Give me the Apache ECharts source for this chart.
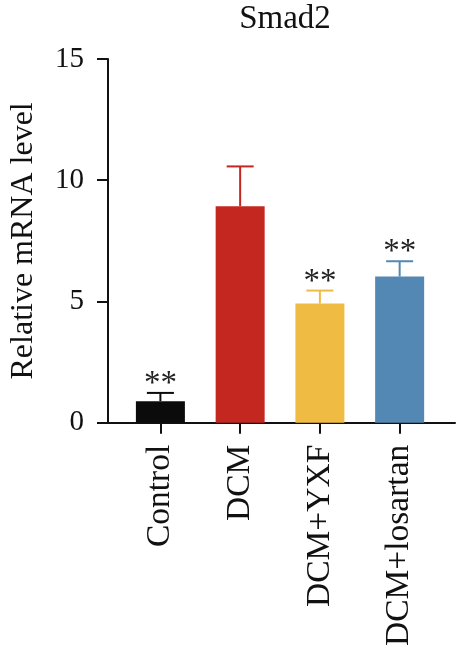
<!DOCTYPE html>
<html>
<head>
<meta charset="utf-8">
<script src="https://cdn.jsdelivr.net/npm/echarts@6/dist/echarts.min.js"></script>
<style>
  html, body { margin: 0; padding: 0; background: #fff; }
  #chart { width: 456px; height: 649px; }
</style>
</head>
<body>
<div id="chart"></div>
<script>
// data
var categories = ['Control', 'DCM', 'DCM+YXF', 'DCM+losartan'];
var means = [0.89, 8.93, 4.92, 6.03];
var errTops = [1.23, 10.57, 5.45, 6.66];
var marks = ['**', '', '**', '**'];
var colors = ['#0b0b0b', '#c4271f', '#f0bb42', '#5288b3'];
var yTicks = [0, 5, 10, 15];

var FONT = '"Liberation Serif", "DejaVu Serif", serif';

var barData = means.map(function (v, i) {
  return { value: [i + 1, v], itemStyle: { color: colors[i] } };
});
var errData = means.map(function (v, i) {
  return [i + 1, v, errTops[i], i];
});

var chart = echarts.init(document.getElementById('chart'));
var option = {
  animation: false,
  title: {
    text: 'Smad2',
    left: 280,
    top: -2,
    textAlign: 'center',
    textStyle: { fontFamily: FONT, fontWeight: 'normal', fontSize: 33, color: '#111' }
  },
  grid: { left: 104, right: 1, top: 59, bottom: 225 },
  xAxis: {
    type: 'value',
    min: 0.343,
    max: 4.694,
    splitLine: { show: false },
    axisLine: { show: true, lineStyle: { color: '#111', width: 2 } },
    axisTick: {
      show: true, length: 11, customValues: [1, 2, 3, 4],
      lineStyle: { color: '#111', width: 2 }
    },
    axisLabel: {
      customValues: [1, 2, 3, 4],
      rotate: 90,
      margin: 22,
      fontFamily: FONT,
      fontSize: 33.5,
      color: '#111',
      formatter: function (v) { return categories[Math.round(v) - 1] || ''; }
    }
  },
  yAxis: {
    type: 'value',
    min: 0,
    max: 15,
    interval: 5,
    name: 'Relative mRNA level',
    nameLocation: 'middle',
    nameRotate: 90,
    nameGap: 68,
    nameTextStyle: { fontFamily: FONT, fontSize: 32, color: '#111' },
    splitLine: { show: false },
    axisLine: { show: true, lineStyle: { color: '#111', width: 2 } },
    axisTick: { show: true, length: 11, lineStyle: { color: '#111', width: 2 } },
    axisLabel: {
      margin: 24,
      fontFamily: FONT,
      fontSize: 29,
      color: '#111',
      formatter: function (v) { return yTicks.indexOf(v) >= 0 ? String(v) : ''; }
    }
  },
  series: [
    {
      type: 'bar',
      barWidth: 49,
      data: barData,
      z: 2
    },
    {
      type: 'custom',
      data: errData,
      z: 3,
      renderItem: function (params, api) {
        var i = api.value(3);
        var base = api.coord([api.value(0), api.value(1)]);
        var top = api.coord([api.value(0), api.value(2)]);
        var half = 13.5;
        var style = { stroke: colors[i], lineWidth: 2 };
        var kids = [
          { type: 'line', shape: { x1: base[0], y1: base[1], x2: top[0], y2: top[1] }, style: style },
          { type: 'line', shape: { x1: base[0] - half, y1: top[1], x2: base[0] + half, y2: top[1] }, style: style }
        ];
        if (marks[i]) {
          kids.push({
            type: 'text',
            style: {
              text: marks[i],
              x: base[0],
              y: top[1] + 8,
              align: 'center',
              verticalAlign: 'bottom',
              font: '33px ' + FONT,
              fill: '#222'
            }
          });
        }
        return { type: 'group', children: kids };
      }
    }
  ]
};
chart.setOption(option);
</script>
</body>
</html>
